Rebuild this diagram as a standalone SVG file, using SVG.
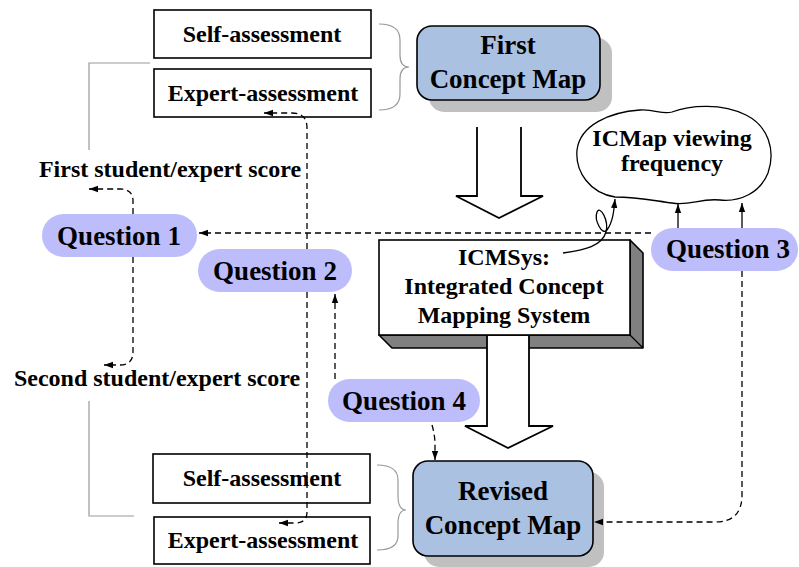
<svg xmlns="http://www.w3.org/2000/svg" width="799" height="567" viewBox="0 0 799 567">
<style>
text{font-family:"Liberation Serif","Times New Roman",serif;font-weight:bold;fill:#000;text-anchor:middle}
.t24{font-size:24px}
.t27{font-size:27px}
.box{fill:#fff;stroke:#000;stroke-width:1.6}
.cm{fill:#abc1e2;stroke:#000;stroke-width:1.6}
.shadow{fill:#c0c0c0}
.q{fill:#bdbdfc}
.gray{fill:none;stroke:#999;stroke-width:1.2}
.dash{fill:none;stroke:#000;stroke-width:1.3;stroke-dasharray:6,4}
.solid{fill:none;stroke:#000;stroke-width:1.3}
.hollow{fill:#fff;stroke:#000;stroke-width:1.8;stroke-linejoin:miter}
</style>
<defs>
<marker id="ah" viewBox="0 0 10 10" refX="10" refY="5" markerWidth="9" markerHeight="9" markerUnits="userSpaceOnUse" orient="auto">
<path d="M0,1.5 L10,5 L0,8.5 Z" fill="#000"/>
</marker>
</defs>

<g id="top-self"><rect class="box" x="154" y="10" width="217" height="48"/><text class="t24" x="262" y="42">Self-assessment</text></g>
<g id="top-expert"><rect class="box" x="154" y="69" width="217" height="48"/><text class="t24" x="263" y="101">Expert-assessment</text></g>
<g id="top-brace"><path class="gray" d="M379,24 Q400,24 400,40 L400,55 Q400,67 409,67 Q400,67 400,79 L400,94 Q400,110 379,110"/></g>

<g id="first-map"><rect class="shadow" x="429" y="38" width="183" height="74" rx="15"/><rect class="cm" x="417" y="26" width="183" height="74" rx="15"/><text class="t27" x="508" y="54">First</text><text class="t27" x="508" y="88">Concept Map</text></g>

<g id="arrow-top"><path class="hollow" d="M477,127 L477,196 L456,196 L499,218 L543,196 L521,196 L521,127"/></g>

<g id="cloud"><path class="solid" d="M615,197 C590,193 575,172 577,150 C580,125 610,112 640,110 C655,109 662,115 672,112 C690,105 722,103 746,115 C768,126 776,150 768,173 C760,193 740,202 720,200 C700,198 690,206 672,203 C650,200 636,197 615,197 Z"/><text class="t24" x="672" y="146">ICMap viewing</text><text class="t24" x="672" y="171">frequency</text></g>

<g id="icmsys"><path d="M379,335 L392,348 L643,348 L643,253 L630,240 L630,335 Z" fill="#808080" stroke="#000" stroke-width="1.6" stroke-linejoin="round"/><line x1="630" y1="335" x2="643" y2="348" stroke="#000" stroke-width="1.2"/><rect class="box" x="379" y="240" width="251" height="95"/><text class="t24" x="504" y="265">ICMSys:</text><text class="t24" x="504" y="294">Integrated Concept</text><text class="t24" x="504" y="323">Mapping System</text></g>

<g id="arrow-bottom"><path class="hollow" d="M487,336 L487,426 L465,426 L508,448 L553,426 L529,426 L529,336"/></g>

<g id="revised-map"><rect class="shadow" x="424" y="472" width="180" height="95" rx="15"/><rect class="cm" x="413" y="461" width="180" height="95" rx="15"/><text class="t27" x="503" y="500">Revised</text><text class="t27" x="503" y="534">Concept Map</text></g>

<g id="bottom-self"><rect class="box" x="153" y="454" width="217" height="49"/><text class="t24" x="262" y="486">Self-assessment</text></g>
<g id="bottom-expert"><rect class="box" x="154" y="517" width="216" height="47"/><text class="t24" x="263" y="548">Expert-assessment</text></g>
<g id="bottom-brace"><path class="gray" d="M377,465 Q398,465 398,480 L398,496 Q398,510 406,510 Q398,510 398,524 L398,536 Q398,550 377,550"/></g>

<g id="first-score"><text class="t24" x="170" y="177">First student/expert score</text></g>
<g id="second-score"><text class="t24" x="157" y="386">Second student/expert score</text></g>

<g id="connectors">
<path class="gray" d="M150,63 L89,63 L89,150"/>
<path class="gray" d="M89,401 L89,516 L134,516"/>
<path class="dash" d="M651,233 L199,233" marker-end="url(#ah)"/>
<path class="dash" d="M133,214 L133,201 Q133,189 120,189 L89,189" marker-end="url(#ah)"/>
<path class="dash" d="M133,257 L133,352 Q133,365 120,365 L104,365" marker-end="url(#ah)"/>
<path class="dash" d="M307,249 L307,128 Q307,113 292,113 L264,113" marker-end="url(#ah)"/>
<path class="dash" d="M307,292 L307,512 Q307,523 295,523 L279,523" marker-end="url(#ah)"/>
<path class="dash" d="M335,379 L335,294" marker-end="url(#ah)"/>
<path class="dash" d="M432,425 Q435,435 435,445 L435,460" marker-end="url(#ah)"/>
<path class="solid" d="M678,228 L678,204" marker-end="url(#ah)"/>
<path class="solid" d="M742,228 L742,203" marker-end="url(#ah)"/>
<path class="dash" d="M742,271 L742,495 Q742,522 715,522 L594,522" marker-end="url(#ah)"/>
<path class="solid" d="M563,253 C585,250 602,246 606,232 C609,220 600,205 597,212 C594,220 602,236 607,230 C613,222 614,210 615,199" marker-end="url(#ah)"/>
</g>

<g id="question1"><rect class="q" x="42" y="214" width="155" height="43" rx="21.5"/><text class="t27" x="119" y="245">Question 1</text></g>
<g id="question2"><rect class="q" x="198" y="249" width="154" height="43" rx="21.5"/><text class="t27" x="275" y="280">Question 2</text></g>
<g id="question3"><rect class="q" x="651" y="228" width="147" height="43" rx="21.5"/><text class="t27" x="728" y="258">Question 3</text></g>
<g id="question4"><rect class="q" x="328" y="379" width="152" height="43" rx="21.5"/><text class="t27" x="404" y="410">Question 4</text></g>
</svg>
